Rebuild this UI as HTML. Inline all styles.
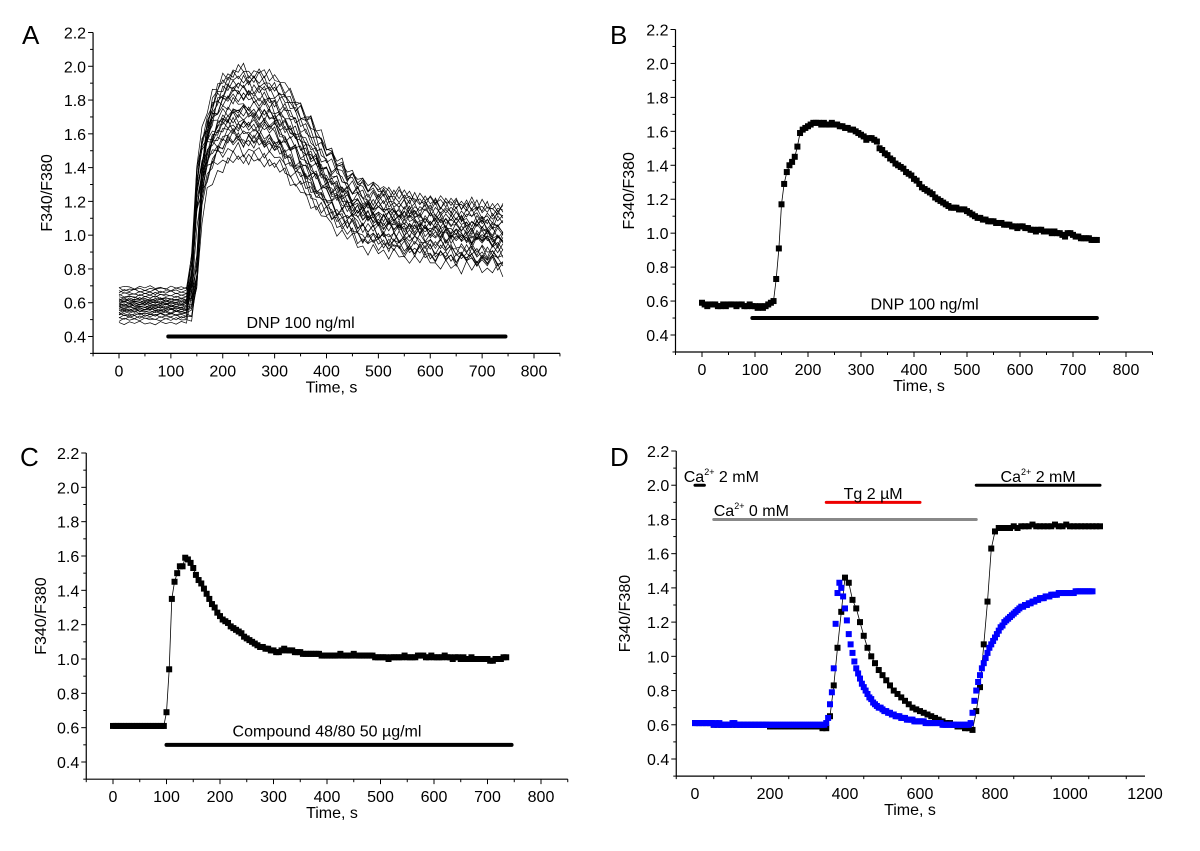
<!DOCTYPE html>
<html><head><meta charset="utf-8">
<style>
html,body{margin:0;padding:0;background:#fff;}
svg{display:block;font-family:"Liberation Sans",Arial,sans-serif;}
text{fill:#000;}
</style></head>
<body>
<svg id="fig" width="1200" height="851" viewBox="0 0 1200 851" xmlns="http://www.w3.org/2000/svg"></svg>
<script>
// ---------- Panel A data ----------
const aStep = 10;
const aMean = [0.57,0.57,0.57,0.57,0.57,0.57,0.57,0.57,0.57,0.57,0.57,0.57,0.57,0.57,
0.75,1.25,1.45,1.55,1.62,1.66,1.68,1.70,1.71,1.71,1.70,1.70,1.70,1.69,1.68,1.67,1.65,1.62,1.59,1.56,1.52,1.48,1.44,1.40,1.36,1.32,1.28,1.25,1.22,1.19,1.17,1.15,1.13,1.11,1.10,1.09,1.08,
1.07,1.06,1.06,1.05,1.04,1.04,1.03,1.03,1.02,1.02,1.01,1.01,1.00,1.00,0.99,0.99,0.99,0.98,0.98,0.98,0.97,0.97,0.97,0.97];
const aBase = [0.48,0.50,0.51,0.52,0.53,0.53,0.54,0.55,0.55,0.56,0.56,0.57,0.57,0.58,0.58,0.59,0.59,0.60,0.60,0.61,0.61,0.62,0.62,0.63,0.64,0.65,0.66,0.67,0.68,0.69];
const aGain = [0.85,1.20,0.95,1.05,0.80,1.15,0.90,1.25,1.00,0.88,1.10,0.92,1.18,0.82,1.02,0.97,1.22,0.86,1.08,0.94,1.12,0.84,1.03,0.99,1.16,0.90,1.06,0.96,1.13,0.87];
const aTail = [0.90,1.15,0.85,1.05,0.95,1.20,0.80,1.10,1.00,0.88,1.12,0.92,1.25,0.83,0.98,1.03,1.18,0.86,1.08,0.94,1.14,0.82,1.02,0.97,1.16,0.89,1.06,0.93,1.10,0.87];
const aShift = [0,1,0,1,1,0,0,1,0,1,0,0,1,0,1,0,1,0,0,1,0,1,0,1,0,0,1,0,1,0];
const aJitter = [0.3,-0.8,0.6,-0.2,0.9,-0.5,0.1,-0.9,0.7,-0.3,0.4,-0.6,0.8,-0.1,0.2,-0.7,0.5,-0.4,1.0,-0.2,0.0,-0.8,0.6,-0.5,0.3,-1.0,0.7,-0.3,0.9,-0.6,0.2,-0.4,0.8,-0.9,0.1,-0.2,0.5,-0.7,0.4,-0.1,0.6];

// ---------- Panel B data ----------
const bStep = 5;
const bMean = [0.59,0.58,0.57,0.58,0.58,0.58,0.57,0.57,0.58,0.57,0.58,0.58,0.58,0.57,0.58,0.58,0.57,0.57,0.58,0.57,0.57,0.56,0.57,0.56,0.57,0.58,0.59,
0.60,0.73,0.91,1.17,1.29,1.36,1.40,1.42,1.45,1.51,1.59,1.61,1.62,1.63,1.64,1.65,1.65,1.65,1.64,1.65,1.64,1.64,1.65,1.64,1.64,1.63,1.63,1.62,1.62,1.61,1.61,1.60,1.59,1.58,1.57,1.55,1.56,1.56,1.55,1.54,1.50,1.49,1.47,1.46,1.44,1.43,1.41,1.40,1.39,1.38,1.36,1.35,1.34,1.32,1.31,1.29,1.27,1.26,1.25,1.24,1.23,1.21,1.20,1.19,1.18,1.17,1.16,1.15,1.15,1.15,1.14,1.14,1.14,1.13,1.12,1.11,1.10,1.09,1.09,1.08,1.08,1.07,1.07,1.07,1.06,1.06,1.06,1.05,1.05,1.05,1.04,1.04,1.03,1.04,1.04,1.03,1.03,1.02,1.02,1.01,1.02,1.02,1.01,1.01,1.01,1.00,1.01,1.00,1.00,0.99,0.98,1.00,1.00,0.99,0.98,0.98,0.97,0.97,0.97,0.97,0.96,0.96,0.96];

// ---------- Panel C data ----------
const cStep = 5;
const cMean = [0.61,0.61,0.61,0.61,0.61,0.61,0.61,0.61,0.61,0.61,0.61,0.61,0.61,0.61,0.61,0.61,0.61,0.61,0.61,0.61,
0.69,0.94,1.35,1.45,1.50,1.54,1.54,1.59,1.58,1.56,1.53,1.49,1.46,1.44,1.41,1.38,1.35,1.32,1.30,1.27,1.25,1.23,1.22,1.21,1.19,1.18,1.17,1.16,1.15,1.13,1.12,1.11,1.10,1.09,1.08,1.07,1.07,1.06,1.06,1.05,1.05,1.04,1.04,1.05,1.06,1.05,1.05,1.05,1.04,1.04,1.04,1.03,1.03,1.03,1.03,1.03,1.03,1.03,1.02,1.02,1.02,
1.02,1.02,1.02,1.02,1.03,1.02,1.02,1.02,1.02,1.03,1.02,1.02,1.02,1.02,1.02,1.02,1.02,1.01,1.01,1.01,1.01,1.01,1.00,1.01,1.01,1.01,1.01,1.01,1.02,1.01,1.01,1.01,1.01,1.02,1.02,1.02,1.01,1.01,1.02,1.01,1.01,1.01,1.01,1.02,1.01,1.01,1.00,1.01,1.01,1.00,1.01,1.00,1.00,1.01,1.00,1.00,1.00,1.00,1.00,1.00,0.99,0.99,1.00,1.00,1.00,1.01,1.01];

// ---------- Panel D data ----------
const dStep = 10;
const dBlack = [0.61,0.61,0.61,0.61,0.61,0.60,0.60,0.60,0.60,0.60,0.60,0.60,0.60,0.60,0.60,0.60,0.60,0.60,0.60,0.60,0.59,0.59,0.59,0.59,0.59,0.59,0.59,0.59,0.59,0.59,0.59,0.59,0.59,0.59,0.58,0.58,
0.65,0.83,1.05,1.26,1.46,1.43,1.33,1.28,1.20,1.12,1.05,1.00,0.96,0.92,0.89,0.86,0.83,0.80,0.78,0.76,0.74,0.72,0.70,0.69,0.68,0.67,0.66,0.65,0.64,0.63,0.62,0.61,0.61,0.60,0.59,0.59,0.58,0.58,0.57,
0.68,0.82,1.07,1.32,1.63,1.73,1.75,1.75,1.75,1.75,1.76,1.75,1.76,1.76,1.76,1.77,1.76,1.76,1.76,1.76,1.76,1.77,1.76,1.76,1.77,1.76,1.76,1.76,1.76,1.76,1.76,1.76,1.76,1.76];
const dBlueStep = 5;
const dBlue = [0.61,0.61,0.61,0.61,0.61,0.61,0.61,0.61,0.61,0.61,0.60,0.61,0.60,0.61,0.60,0.60,0.60,0.60,0.60,0.60,0.61,0.61,0.60,0.60,0.60,0.60,0.60,0.60,0.60,0.60,0.60,0.60,0.60,0.60,0.60,0.60,0.60,0.60,0.60,0.60,
0.60,0.60,0.60,0.60,0.60,0.60,0.60,0.60,0.60,0.60,0.60,0.60,0.60,0.60,0.60,0.60,0.60,0.60,0.60,0.60,0.60,0.60,0.60,0.60,0.60,0.60,0.60,0.60,0.60,0.60,0.61,
0.64,0.72,0.79,0.93,1.19,1.37,1.43,1.40,1.35,1.28,1.21,1.13,1.07,1.02,0.97,0.93,0.90,0.87,0.84,0.82,0.80,0.78,0.76,0.75,0.73,0.72,0.71,0.70,0.70,0.69,0.68,0.68,0.67,0.67,0.66,0.66,0.65,0.65,0.65,0.64,0.64,0.64,0.63,0.63,0.63,0.63,0.62,0.62,0.62,0.62,0.62,0.62,0.61,0.61,0.61,0.61,0.61,0.61,0.61,0.61,0.61,0.60,0.60,0.60,0.60,0.60,0.60,0.60,0.60,0.60,0.60,0.60,0.60,0.60,0.60,0.60,
0.61,0.67,0.74,0.80,0.85,0.89,0.93,0.96,0.99,1.02,1.05,1.07,1.09,1.11,1.13,1.15,1.17,1.18,1.20,1.21,1.22,1.23,1.24,1.25,1.26,1.27,1.28,1.29,1.29,1.30,1.30,1.31,1.31,1.32,1.32,1.33,1.33,1.34,1.34,1.34,1.35,1.35,1.35,1.36,1.36,1.36,1.36,1.37,1.37,1.37,1.37,1.37,1.37,1.37,1.37,1.37,1.38,1.38,1.38,1.38,1.38,1.38,1.38,1.38,1.38,1.38];
const dBlueStart = 0;

// ---------- tick labels ----------
const yTickLabels = ["0.4","0.6","0.8","1.0","1.2","1.4","1.6","1.8","2.0","2.2"];
const xTicksABC = ["0","100","200","300","400","500","600","700","800"];
const xTicksD = ["0","200","400","600","800","1000","1200"];

const NS = "http://www.w3.org/2000/svg";
const svg = document.getElementById('fig');
function mk(tag, attrs, parent){
  const e = document.createElementNS(NS, tag);
  for (const k in attrs) e.setAttribute(k, attrs[k]);
  (parent||svg).appendChild(e);
  return e;
}

const panels = {
  A:{x0v:0,x0:119,x1v:800,x1:534,xmin:-50,xmax:850,y0v:0.4,y0:336.5,y1v:2.2,y1:32.5,letterX:22,letterY:44,ylabX:52,xticks:xTicksABC,minorX:50},
  B:{x0v:0,x0:702,x1v:800,x1:1126,xmin:-50,xmax:850,y0v:0.4,y0:335,y1v:2.2,y1:29.5,letterX:610,letterY:44,ylabX:634,xticks:xTicksABC,minorX:50},
  C:{x0v:0,x0:113,x1v:800,x1:541,xmin:-50,xmax:850,y0v:0.4,y0:762,y1v:2.2,y1:453,letterX:20,letterY:466,ylabX:46,xticks:xTicksABC,minorX:50},
  D:{x0v:0,x0:695,x1v:1200,x1:1145,xmin:-50,xmax:1200,y0v:0.4,y0:759,y1v:2.2,y1:451,letterX:610,letterY:466,ylabX:630,xticks:xTicksD,minorX:100}
};
function sx(p,v){return p.x0+(v-p.x0v)*(p.x1-p.x0)/(p.x1v-p.x0v);}
function sy(p,v){return p.y0+(v-p.y0v)*(p.y1-p.y0)/(p.y1v-p.y0v);}

function drawAxes(key){
  const p = panels[key];
  const g = mk('g',{});
  
  
  const left = sx(p,p.xmin), right = sx(p,p.xmax);
  const top = sy(p,2.2), bot = sy(p,0.3);
  const ya = mk('line',{x1:left,y1:top,x2:left,y2:bot,stroke:'#000','stroke-width':1.2},g);
   
  const xa = mk('line',{x1:left,y1:bot,x2:right,y2:bot,stroke:'#000','stroke-width':1.2},g);
   
  for (let i=3;i<=22;i++){
    const v=i/10, y=sy(p,v), major=(i%2===0);
    mk('line',{x1:left,y1:y,x2:left-(major?5:3),y2:y,stroke:'#000','stroke-width':1},g);
    if(major){
      const t=mk('text',{x:left-7,y:y+6,'text-anchor':'end','font-size':16},g);
      t.textContent=yTickLabels[(i-4)/2];
       
    }
  }
  const maj = Number(p.xticks[1]);
  for (let v=p.xmin; v<=p.xmax+0.01; v+=p.minorX){
    const x=sx(p,v), major=(v%maj===0);
    mk('line',{x1:x,y1:bot,x2:x,y2:bot+(major?5:3),stroke:'#000','stroke-width':1},g);
  }
  p.xticks.forEach(lbl=>{
    const t=mk('text',{x:sx(p,Number(lbl)),y:bot+23,'text-anchor':'middle','font-size':16},g);
    t.textContent=lbl;
     
  });
  const xt=mk('text',{x:(sx(p,p.xticks[0]*1)+sx(p,p.xticks[p.xticks.length-1]*1))/2+(key==='D'?-10:5),y:bot+39,'text-anchor':'middle','font-size':16},g);
  xt.textContent='Time, s';
   
  const cy=(top+bot)/2;
  const yt=mk('text',{x:p.ylabX,y:cy,'text-anchor':'middle','font-size':16,transform:`rotate(-90 ${p.ylabX} ${cy})`},g);
  yt.textContent='F340/F380';
   
  const L=mk('text',{x:p.letterX,y:p.letterY,'font-size':26},g);
  L.textContent=key;
   
}
['A','B','C','D'].forEach(drawAxes);

function bar(key,t0,t1,v,color,w,name){
  const p=panels[key];
  const l=mk('line',{x1:sx(p,t0),y1:sy(p,v),x2:sx(p,t1),y2:sy(p,v),stroke:color,'stroke-width':w,'stroke-linecap':'round'});
   
}
function label(key,t,v,txt,anchor,name){
  const p=panels[key];
  const e=mk('text',{x:sx(p,t),y:sy(p,v),'text-anchor':anchor,'font-size':16});
  e.innerHTML=txt;
   
}

// ---------- Panel A traces ----------
(function(){
  const p=panels.A;
  const g=mk('g',{});
   
  const n=aMean.length;
  for(let j=0;j<aBase.length;j++){
    let pts=[];
    for(let k=0;k<n;k++){
      const src=Math.max(0,k-aShift[j]);
      const rise=aMean[src]-0.57;
      const frac=Math.min(1,Math.max(0,(k*aStep-300)/450));
      const tailF=1+(aTail[j]-1)*frac;
      const jit=aJitter[(k+j*7)%aJitter.length]*(rise>0.05?0.045:0.012);
      const v=aBase[j]+rise*aGain[j]*tailF*(1-0.25*(aBase[j]-0.57))+jit;
      pts.push(sx(p,k*aStep).toFixed(1)+','+sy(p,v).toFixed(1));
    }
    const pl=mk('polyline',{points:pts.join(' '),fill:'none',stroke:'#000','stroke-width':0.7},g);
    
    
  }
})();
bar('A',95,745,0.4,'#000',4,'dnp-bar');
label('A',350,0.45,'DNP 100 ng/ml','middle','dnp-label');

function series(key,arr,step,start,color,size,withLine,name){
  const p=panels[key];
  const g=mk('g',{});
   
  if(withLine){
    const pts=arr.map((v,i)=>sx(p,start+i*step).toFixed(1)+','+sy(p,v).toFixed(1)).join(' ');
    mk('polyline',{points:pts,fill:'none',stroke:'#000','stroke-width':0.8},g);
  }
  arr.forEach((v,i)=>{
    const x=sx(p,start+i*step), y=sy(p,v);
    const r=mk('rect',{x:x-size/2,y:y-size/2,width:size,height:size,fill:color},g);
    
    
  });
}
series('B',bMean,bStep,0,'#000',6,true,'panel-b-series');
bar('B',95,745,0.5,'#000',4,'dnp-bar');
label('B',420,0.55,'DNP 100 ng/ml','middle','dnp-label');

series('C',cMean,cStep,0,'#000',6,true,'panel-c-series');
bar('C',100,745,0.5,'#000',4,'compound-bar');
label('C',400,0.55,'Compound 48/80 50 µg/ml','middle','compound-label');

series('D',dBlack,dStep,0,'#000',6,true,'panel-d-black-series');
series('D',dBlue,dBlueStep,dBlueStart,'#0000ff',6,false,'panel-d-blue-series');
bar('D',0,25,2.0,'#000',3,'ca-2mm-bar-1');
label('D',-30,2.02,'Ca<tspan font-size="9" dy="-7">2+</tspan><tspan dy="7"> 2 mM</tspan>','start','ca-2mm-label-1');
bar('D',50,750,1.8,'#888',3,'ca-0mm-bar');
label('D',50,1.82,'Ca<tspan font-size="9" dy="-7">2+</tspan><tspan dy="7"> 0 mM</tspan>','start','ca-0mm-label');
bar('D',350,600,1.9,'#ee0000',3,'tg-bar');
label('D',475,1.92,'Tg 2 µM','middle','tg-label');
bar('D',750,1080,2.0,'#000',3,'ca-2mm-bar-2');
label('D',915,2.02,'Ca<tspan font-size="9" dy="-7">2+</tspan><tspan dy="7"> 2 mM</tspan>','middle','ca-2mm-label-2');
</script>
</body></html>
